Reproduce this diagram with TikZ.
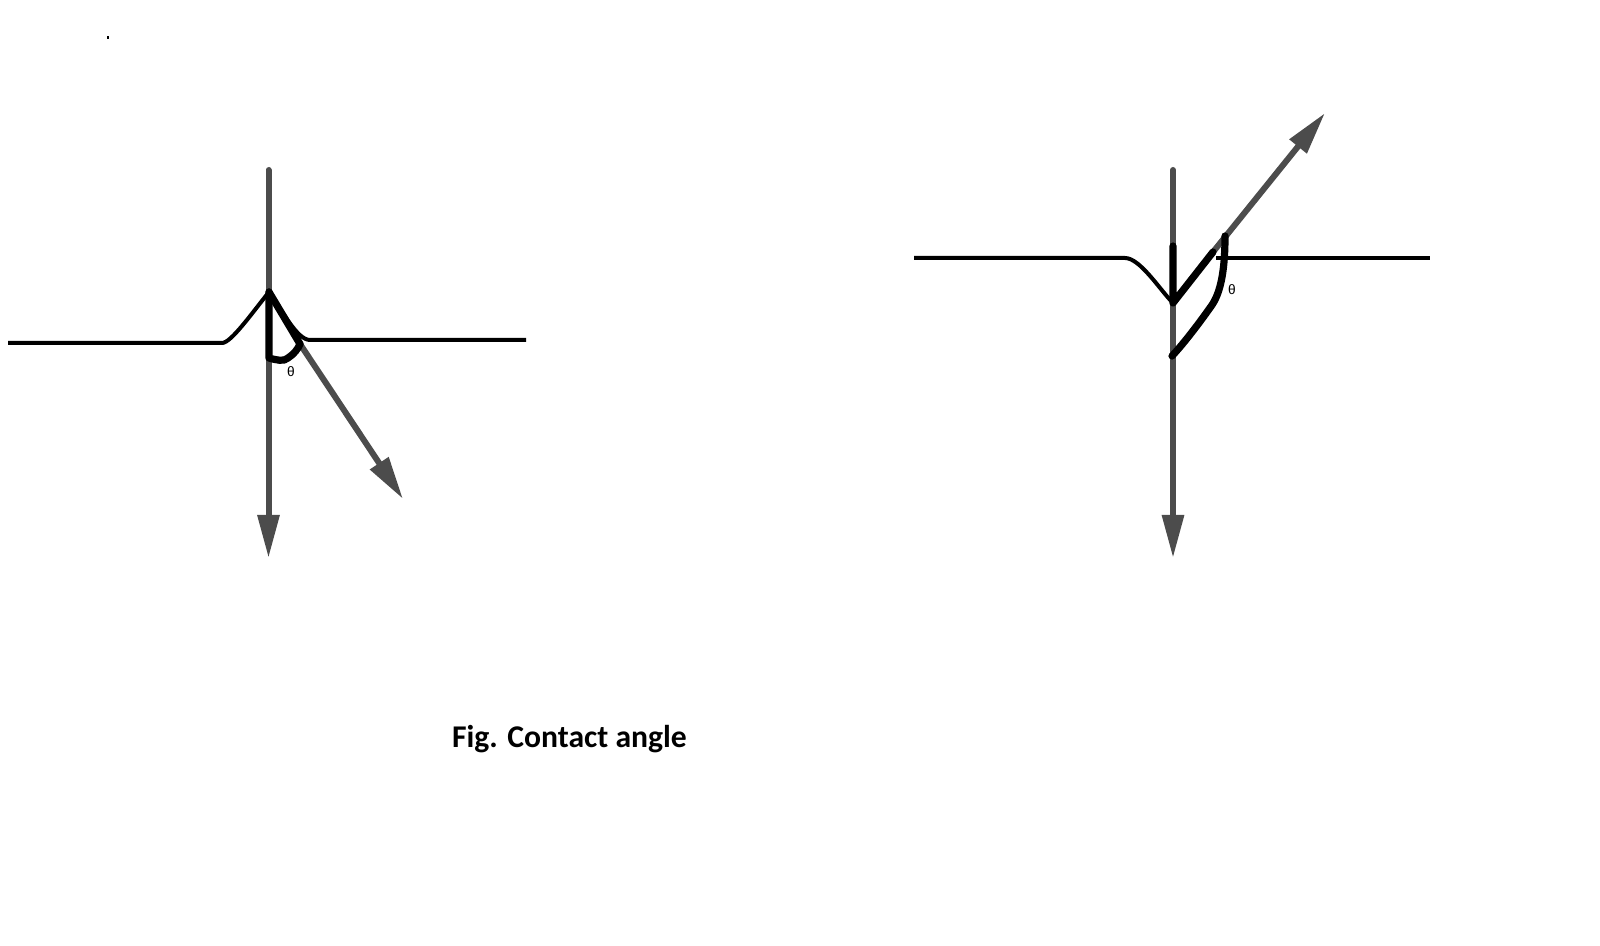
\documentclass[tikz,border=0pt]{standalone}
\usepackage{fontspec}
\setmainfont{Carlito}
\newfontfamily\thetafont{Liberation Sans}
\usetikzlibrary{arrows.meta}
\definecolor{r77g77b77}{rgb}{0.300000,0.300000,0.300000}
\tikzset{
  forceline/.style={line width=0.06cm,line cap=round,color=r77g77b77,-{Triangle[length=0.43cm,width=0.21cm]}},
  surface/.style={line width=0.04cm,line join=round},
  wedge/.style={line width=0.072cm,line cap=round,line join=round},
  anglemark/.style={inner sep=0pt,font=\thetafont\fontsize{3.9pt}{4pt}\selectfont}
}
\begin{document}
\begin{tikzpicture}[x=0.01cm,y=-0.01cm]
  \useasboundingbox (0,0) rectangle (1600,946);

  % Marking points of the left figure
  \coordinate (Ltop) at (268.5,170);
  \coordinate (Ltip) at (268.5,558);
  \coordinate (Lapex) at (269,292);
  \coordinate (Lfoot) at (269,358);
  \coordinate (Lcontact) at (300,344);
  \coordinate (Ldiagtip) at (403,499);

  % Marking points of the right figure
  \coordinate (Rtop) at (1173,170);
  \coordinate (Rtip) at (1173,558);
  \coordinate (Rdip) at (1173,303);
  \coordinate (Rstem) at (1173,246);
  \coordinate (Rcontact) at (1213,252);
  \coordinate (Rdiagtip) at (1325,113);
  \coordinate (Rarcend) at (1225,236);
  \coordinate (Rfoot) at (1172,356);

  % Drawing grey forces, left
  \draw [forceline] (Ltop) -- (Ltip);
  \draw [forceline] (Lcontact) -- (Ldiagtip);

  % Drawing grey forces, right
  \draw [forceline] (Rtop) -- (Rtip);
  \draw [forceline] (Rcontact) -- (Rdiagtip);

  % Drawing surface, left
  \draw [surface] (8,343) -- (222,343) .. controls (231,343) and (252,313) .. (Lapex);
  \draw [surface] (Lapex) .. controls (282,310) and (297,340) .. (310,340) -- (526,340);

  % Drawing surface, right
  \draw [surface] (914,258) -- (1125,258) .. controls (1140,258) and (1160,290) .. (Rdip);
  \draw [surface] (1216,258) -- (1430,258);

  % Drawing wedge, left
  \draw [wedge] (Lapex) -- (Lfoot) .. controls (276,360) and (284,362) .. (288,358) .. controls (294,354) and (298,349) .. (Lcontact);
  \draw [wedge] (Lapex) -- (Lcontact);

  % Drawing wedge, right
  \draw [wedge] (Rstem) -- (Rdip) -- (Rcontact);
  \draw [wedge] (Rarcend) .. controls (1225,265) and (1222,290) .. (1212,305) .. controls (1200,322) and (1185,342) .. (Rfoot);

  % Marking angles
  \node [anchor=center,anglemark] (Ltheta) at (291,372) {θ};
  \node [anchor=center,anglemark] (Rtheta) at (1232,290) {θ};

  % Marking caption
  \node [anchor=center,inner sep=0pt,font=\bfseries\fontsize{9pt}{11pt}\selectfont] (caption) at (569.5,739) {Fig. Contact angle};

  % Marking stray dot
  \fill (107,36) rectangle (108.5,39);
\end{tikzpicture}
\end{document}
